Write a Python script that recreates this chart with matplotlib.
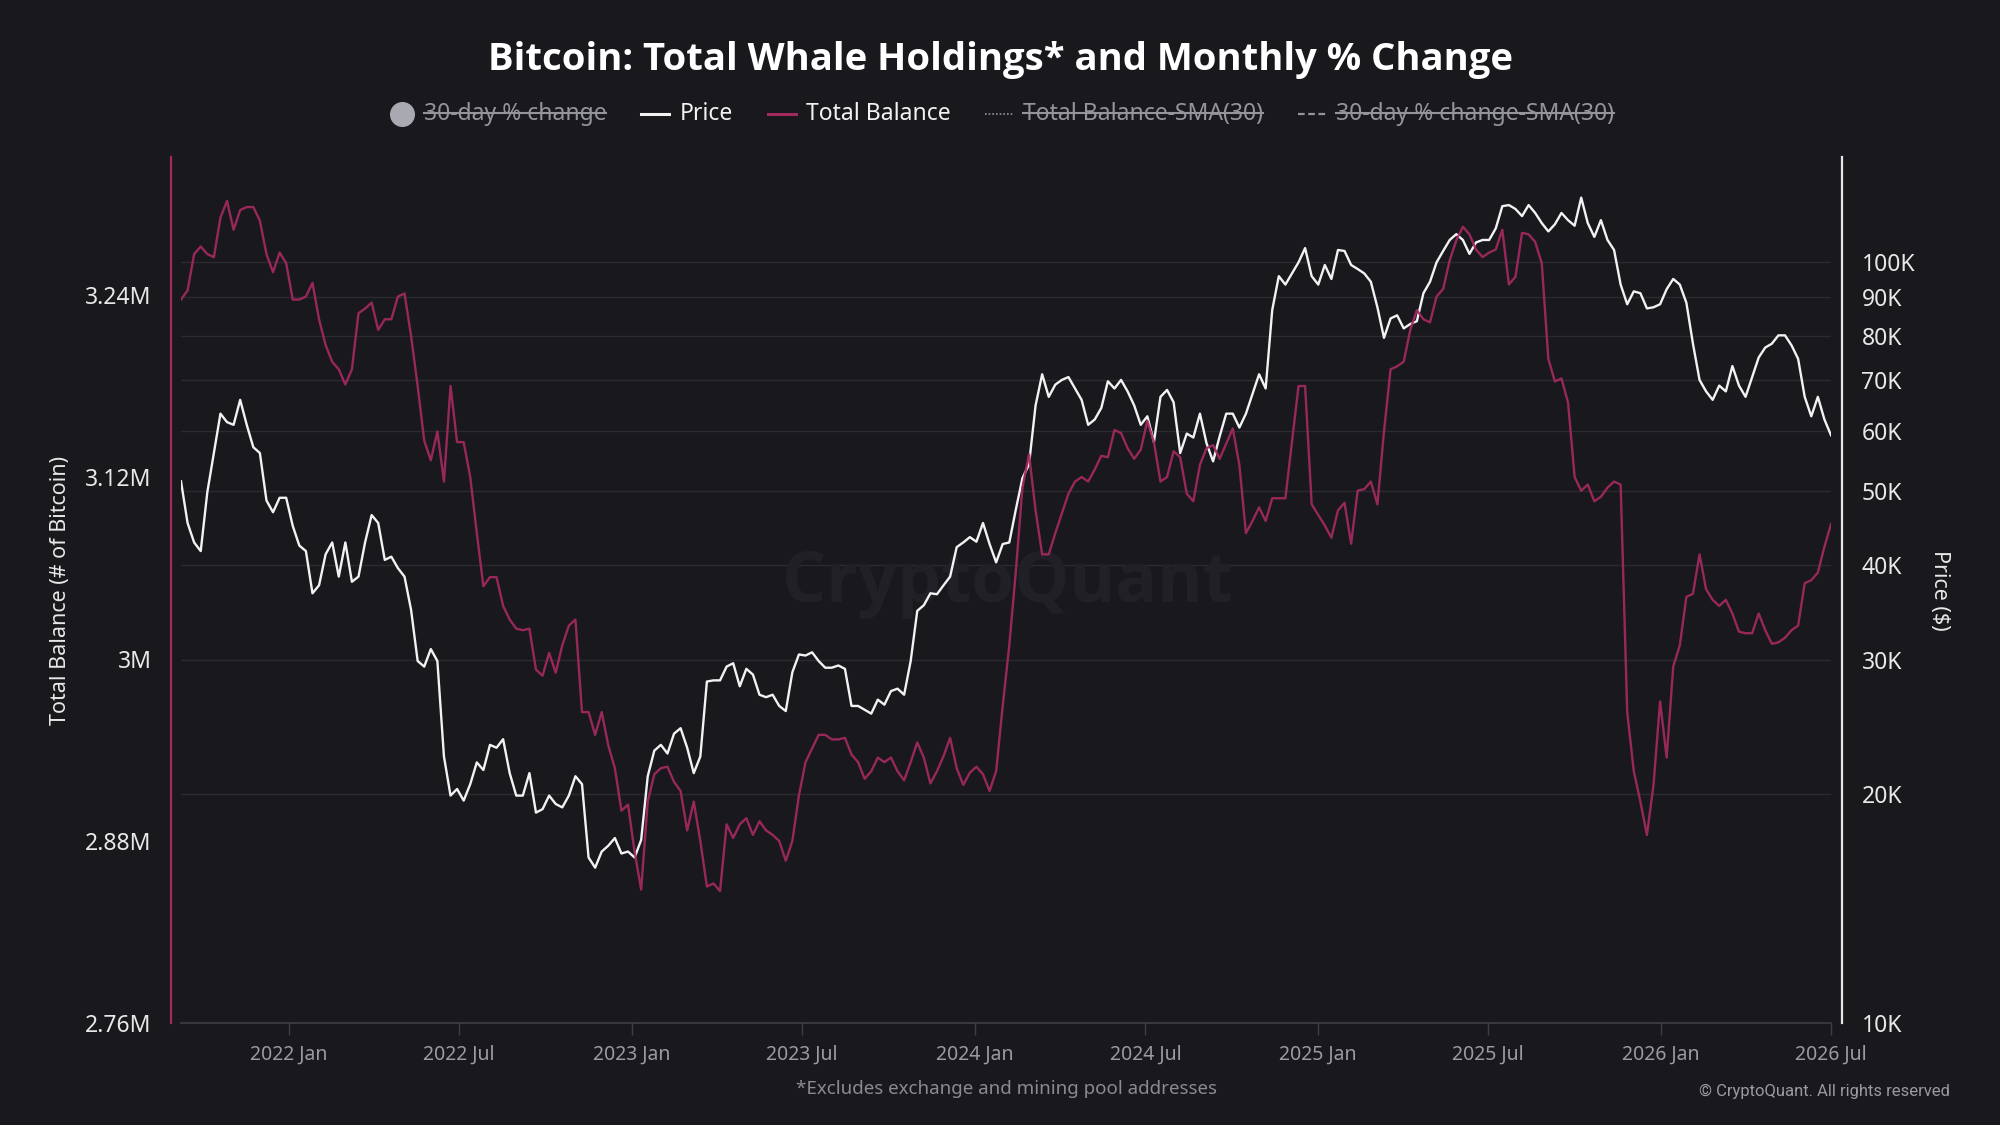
import matplotlib
matplotlib.use('Agg')
import matplotlib.pyplot as plt
from matplotlib.lines import Line2D
from matplotlib.ticker import NullLocator
import pandas as pd

plt.rcParams['font.family'] = ['Noto Sans', 'DejaVu Sans']

# ---------------- data (weekly samples) ----------------
dates = pd.date_range('2021-09-08', periods=252, freq='7D')

balance_m = [
    3.237, 3.243, 3.267, 3.272, 3.267, 3.265, 3.291, 3.302, 3.283, 3.296,
    3.298, 3.298, 3.289, 3.267, 3.255, 3.268, 3.261, 3.237, 3.237, 3.239,
    3.248, 3.224, 3.207, 3.196, 3.191, 3.181, 3.191, 3.228, 3.231, 3.235,
    3.217, 3.224, 3.224, 3.239, 3.241, 3.213, 3.180, 3.144, 3.131, 3.150,
    3.117, 3.180, 3.143, 3.143, 3.120, 3.083, 3.048, 3.054, 3.054, 3.035,
    3.026, 3.020, 3.019, 3.020, 2.993, 2.989, 3.004, 2.991, 3.009, 3.022,
    3.026, 2.965, 2.965, 2.950, 2.965, 2.943, 2.928, 2.900, 2.904, 2.873,
    2.848, 2.906, 2.924, 2.928, 2.929, 2.919, 2.913, 2.887, 2.906, 2.880,
    2.850, 2.852, 2.847, 2.891, 2.882, 2.891, 2.895, 2.884, 2.893, 2.887,
    2.884, 2.880, 2.867, 2.880, 2.910, 2.932, 2.941, 2.950, 2.950, 2.947,
    2.947, 2.948, 2.937, 2.932, 2.921, 2.926, 2.935, 2.932, 2.935, 2.926,
    2.920, 2.932, 2.945, 2.935, 2.918, 2.926, 2.936, 2.948, 2.928, 2.917,
    2.925, 2.929, 2.924, 2.913, 2.926, 2.969, 3.009, 3.058, 3.113, 3.135,
    3.098, 3.069, 3.069, 3.083, 3.096, 3.109, 3.117, 3.120, 3.117, 3.125,
    3.134, 3.133, 3.151, 3.149, 3.139, 3.132, 3.138, 3.157, 3.143, 3.117,
    3.120, 3.137, 3.133, 3.109, 3.104, 3.128, 3.139, 3.141, 3.132, 3.142,
    3.152, 3.128, 3.083, 3.091, 3.100, 3.091, 3.106, 3.106, 3.106, 3.143,
    3.180, 3.180, 3.102, 3.095, 3.088, 3.080, 3.098, 3.103, 3.076, 3.111,
    3.112, 3.117, 3.102, 3.150, 3.191, 3.193, 3.196, 3.217, 3.230, 3.224,
    3.222, 3.239, 3.244, 3.263, 3.276, 3.285, 3.280, 3.270, 3.265, 3.268,
    3.270, 3.283, 3.247, 3.252, 3.281, 3.280, 3.275, 3.261, 3.198, 3.183,
    3.185, 3.169, 3.120, 3.111, 3.115, 3.104, 3.107, 3.113, 3.117, 3.115,
    2.965, 2.926, 2.906, 2.884, 2.917, 2.972, 2.935, 2.995, 3.009, 3.041,
    3.043, 3.069, 3.046, 3.039, 3.035, 3.039, 3.030, 3.018, 3.017, 3.017,
    3.030, 3.019, 3.010, 3.011, 3.014, 3.019, 3.022, 3.050, 3.052, 3.057,
    3.074, 3.089,
]

price_k = [
    51.5, 45.4, 42.8, 41.7, 49.8, 56.1, 63.2, 61.6, 61.1, 65.9,
    61.1, 57.1, 56.1, 48.6, 46.9, 49.0, 49.0, 45.0, 42.4, 41.7,
    36.7, 37.6, 41.3, 42.8, 38.6, 42.8, 38.0, 38.6, 42.8, 46.5,
    45.4, 40.6, 41.0, 39.6, 38.6, 34.9, 29.9, 29.4, 31.0, 29.9,
    22.4, 19.9, 20.3, 19.6, 20.6, 22.0, 21.5, 23.2, 23.0, 23.6,
    21.3, 19.9, 19.9, 21.3, 18.9, 19.1, 19.9, 19.4, 19.2, 19.9,
    21.1, 20.6, 16.5, 16.0, 16.8, 17.1, 17.5, 16.7, 16.8, 16.5,
    17.4, 21.1, 22.8, 23.2, 22.6, 24.0, 24.4, 23.0, 21.3, 22.4,
    28.1, 28.2, 28.2, 29.4, 29.7, 27.7, 29.2, 28.7, 27.0, 26.8,
    27.0, 26.1, 25.7, 28.9, 30.5, 30.4, 30.7, 29.9, 29.3, 29.3,
    29.5, 29.2, 26.1, 26.1, 25.8, 25.5, 26.6, 26.2, 27.3, 27.5,
    27.0, 29.9, 34.8, 35.4, 36.7, 36.6, 37.6, 38.6, 42.2, 42.8,
    43.5, 42.9, 45.4, 42.6, 40.3, 42.6, 42.8, 47.3, 52.0, 54.2,
    64.8, 71.2, 66.5, 69.0, 70.0, 70.6, 68.2, 65.9, 61.1, 62.1,
    64.3, 69.7, 68.2, 70.0, 67.6, 64.8, 61.1, 62.7, 58.0, 66.5,
    67.9, 65.4, 56.1, 59.5, 58.8, 63.2, 57.8, 54.7, 59.0, 63.2,
    63.2, 60.6, 63.2, 67.1, 71.2, 68.2, 86.5, 95.8, 93.4, 96.6,
    99.9, 104.3, 95.8, 93.4, 99.1, 95.0, 103.7, 103.4, 99.1, 97.9,
    96.6, 94.2, 87.2, 79.5, 84.3, 85.1, 81.8, 82.9, 83.6, 91.0,
    94.2, 99.9, 103.4, 106.9, 108.8, 106.9, 102.5, 106.1, 106.9, 106.9,
    110.7, 118.4, 118.8, 117.4, 114.9, 118.8, 116.0, 112.5, 109.7, 112.1,
    116.0, 113.5, 111.6, 121.5, 112.5, 107.9, 113.5, 106.9, 103.7, 93.4,
    88.0, 91.5, 91.0, 86.9, 87.2, 88.0, 92.1, 95.0, 93.4, 88.4,
    78.1, 70.0, 67.6, 65.9, 68.8, 67.6, 73.0, 68.8, 66.5, 70.6,
    74.9, 77.2, 78.1, 80.1, 80.1, 77.7, 74.6, 66.5, 62.7, 66.5,
    62.1, 59.2,
]

x_ticks = ['2022-01-01', '2022-07-01', '2023-01-01', '2023-07-01', '2024-01-01',
           '2024-07-01', '2025-01-01', '2025-07-01', '2026-01-01', '2026-07-01']
x_tick_labels = ['2022 Jan', '2022 Jul', '2023 Jan', '2023 Jul', '2024 Jan',
                 '2024 Jul', '2025 Jan', '2025 Jul', '2026 Jan', '2026 Jul']
balance_ticks = [2.76, 2.88, 3.00, 3.12, 3.24]
balance_tick_labels = ['2.76M', '2.88M', '3M', '3.12M', '3.24M']
price_ticks = [10, 20, 30, 40, 50, 60, 70, 80, 90, 100]
price_tick_labels = ['10K', '20K', '30K', '40K', '50K', '60K', '70K', '80K', '90K', '100K']

title = 'Bitcoin: Total Whale Holdings* and Monthly % Change'
legend_items = [
    ('circle', '30-day % change', True),
    ('price', 'Price', False),
    ('balance', 'Total Balance', False),
    ('dotted', 'Total Balance-SMA(30)', True),
    ('dashed', '30-day % change-SMA(30)', True),
]

# ---------------- style ----------------
BG = '#18181d'
CRIMSON = '#a3295f'
WHITE = '#f2f2f2'
GRAY_TXT = '#94949c'
GRID = '#2a2a30'
BOLD_FAMILY = ['Open Sans', 'Lato', 'DejaVu Sans']
W, H = 2000, 1125

fig = plt.figure(figsize=(20, 11.25), dpi=100, facecolor=BG)
ax = fig.add_axes([181 / W, 1 - 1023 / H, 1650 / W, 866 / H])
ax.set_facecolor(BG)
ax2 = ax.twinx()

# price axis (right, log)
ax.set_yscale('log')
ax.set_ylim(10, 137.4)
ax.set_yticks(price_ticks)
ax.set_yticklabels(price_tick_labels)
ax.yaxis.set_minor_locator(NullLocator())
ax.yaxis.tick_right()
ax.yaxis.set_label_position('right')
ax.grid(axis='y', which='major', color=GRID, lw=1.0)
ax.set_axisbelow(True)

# balance axis (left)
ax2.set_ylim(2.76, 3.331)
ax2.set_yticks(balance_ticks)
ax2.set_yticklabels(balance_tick_labels)
ax2.yaxis.tick_left()
ax2.yaxis.set_label_position('left')

ax.plot(dates, price_k, color=WHITE, lw=1.7, zorder=3)
ax2.plot(dates, balance_m, color=CRIMSON, lw=1.7, alpha=0.93, zorder=3)

ax.set_xlim(pd.Timestamp('2021-09-08'), pd.Timestamp('2026-07-01'))
ax.set_xticks(pd.to_datetime(x_ticks))
ax.set_xticklabels(x_tick_labels)

# spines
ax.spines['top'].set_visible(False)
ax.spines['left'].set_visible(False)
ax.spines['right'].set_position(('outward', 11 * 0.72))
ax.spines['right'].set_color('#e6e6e6')
ax.spines['right'].set_linewidth(1.6)
ax.spines['bottom'].set_color('#3e3e46')
ax.spines['bottom'].set_linewidth(1.2)
for s in ['top', 'right', 'bottom']:
    ax2.spines[s].set_visible(False)
ax2.spines['left'].set_position(('outward', 10 * 0.72))
ax2.spines['left'].set_color(CRIMSON)
ax2.spines['left'].set_linewidth(1.6)

ax.tick_params(axis='x', length=8.6, width=1.0, color='#3e3e46',
               labelcolor='#9a9aa2', labelsize=14, pad=7)
ax.tick_params(axis='y', which='both', length=0, labelsize=16.5,
               labelcolor='#e8e8e8', pad=14)
ax2.tick_params(axis='y', length=0, labelsize=16.5, labelcolor='#e8e8e8', pad=14)

ax2.set_ylabel('Total Balance (# of Bitcoin)', color='#e8e8e8', fontsize=15.5)
ax2.yaxis.set_label_coords(-0.0733, 0.5)
ax2.yaxis.label.set_verticalalignment('center')
ax.set_ylabel('Price ($)', color='#e8e8e8', fontsize=15.5, rotation=-90)
ax.yaxis.set_label_coords(1.0655, 0.5)
ax.yaxis.label.set_verticalalignment('center')
ax.yaxis.label.set_horizontalalignment('center')

# watermark
ax.text(0.501, 0.507, 'CryptoQuant', transform=ax.transAxes, ha='center', va='center',
        fontsize=50, fontweight='bold', color='#202026', zorder=1, family=BOLD_FAMILY)

# title and notes
fig.text(0.5, 1 - 60 / H, title, ha='center', va='center', fontsize=27.5,
         fontweight='bold', color='white', family=BOLD_FAMILY)
fig.text(1006 / W, 1 - 1089 / H, '*Excludes exchange and mining pool addresses',
         ha='center', va='center', fontsize=13.5, color='#8a8a92')
fig.text(1950 / W, 1 - 1091 / H, '\u00a9 CryptoQuant. All rights reserved',
         ha='right', va='center', fontsize=12, color='#9a9aa2',
         family=['Roboto', 'DejaVu Sans'])

# ---------------- legend (manual row) ----------------
ly = 1 - 114 / H
texts = []
for kind, label, struck in legend_items:
    col = GRAY_TXT if struck else WHITE
    t = fig.text(0, ly, label, ha='left', va='center', fontsize=16.5, color=col)
    texts.append(t)
fig.canvas.draw()
r = fig.canvas.get_renderer()
widths = [t.get_window_extent(r).width for t in texts]
HW, GAP_HT, GAP_IT = 28, 10, 35
total = sum(HW + GAP_HT + w for w in widths) + GAP_IT * (len(widths) - 1)
x = 1000 - total / 2
for (kind, label, struck), t, w in zip(legend_items, texts, widths):
    yy = ly
    if kind == 'circle':
        fig.add_artist(Line2D([(x + HW / 2 + 2) / W], [yy], marker='o', ms=17,
                              color='#a9a9b2', linestyle='none',
                              transform=fig.transFigure))
    elif kind == 'price':
        fig.add_artist(Line2D([x / W, (x + HW) / W], [yy, yy], color=WHITE, lw=2.2,
                              transform=fig.transFigure))
    elif kind == 'balance':
        fig.add_artist(Line2D([x / W, (x + HW) / W], [yy, yy], color=CRIMSON, lw=2.2,
                              transform=fig.transFigure))
    elif kind == 'dotted':
        fig.add_artist(Line2D([x / W, (x + HW) / W], [yy, yy], color=GRAY_TXT, lw=1.2,
                              linestyle=(0, (1, 1.2)), transform=fig.transFigure))
    elif kind == 'dashed':
        fig.add_artist(Line2D([x / W, (x + HW) / W], [yy, yy], color=GRAY_TXT, lw=1.6,
                              linestyle=(0, (3, 1.6)), transform=fig.transFigure))
    tx = x + HW + GAP_HT
    t.set_x(tx / W)
    if struck:
        fig.add_artist(Line2D([tx / W, (tx + w) / W], [yy + 1 / H, yy + 1 / H],
                              color=GRAY_TXT, lw=1.5, transform=fig.transFigure))
    x = tx + w + GAP_IT

fig.savefig('out.png', dpi=100, facecolor=BG)
